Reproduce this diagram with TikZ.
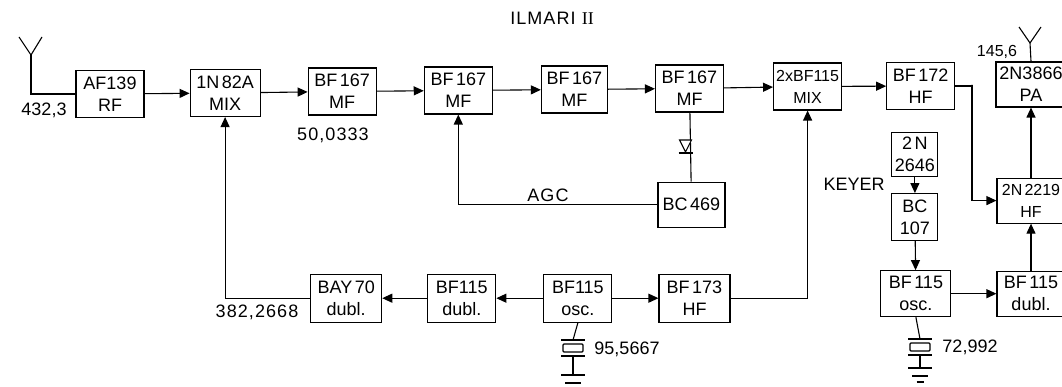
\documentclass[tikz,border=0pt]{standalone}
\usepackage{fontspec}
\setmainfont{Liberation Sans}
\newfontfamily\wideface[LetterSpace=6]{Liberation Sans}
\newfontfamily\blockface[WordSpace=0.5]{Liberation Sans}
\newfontfamily\romanface{Liberation Serif}
\usetikzlibrary{positioning,arrows.meta}
\tikzset{
  block/.style={draw,align=center,inner sep=0pt,minimum width=68pt,minimum height=47pt,font=\fontsize{18}{22}\selectfont\blockface},
  tight/.style={block,font=\fontsize{16}{22}\selectfont\blockface},
  lbl/.style={font=\fontsize{18}{20}\selectfont,inner sep=0pt},
  widelbl/.style={font=\fontsize{18}{20}\selectfont\wideface,inner sep=0pt},
  arr/.style={-{Triangle[length=10pt,width=9pt]}},
  xtal/.pic={
    \coordinate (-top) at (0,0);
    \coordinate (-bot) at (0,16);
    \draw (-12,0) -- (12,0);
    \draw[rounded corners=1pt] (-10,4) rectangle (10,12);
    \draw (-12,16) -- (12,16);
  },
  gnd/.pic={
    \draw (-12,0) -- (12,0);
    \draw (-8,8) -- (8,8);
    \draw (-3.5,14) -- (3.5,14);
  },
  diode/.pic={
    \draw[fill=white] (-6,-6) -- (6,-6) -- (0,6) -- cycle;
    \draw (-7,7) -- (7,7);
  }
}

\begin{document}
\begin{tikzpicture}[x=1pt,y=-1pt,line width=1.1pt]
  \useasboundingbox (0,0) rectangle (1062,387);
  \clip (0,0) rectangle (1062,387);
  % top row
  \node[block,minimum width=68pt] (rf) at (110,94) {AF139\\RF};
  \node[block,minimum width=70pt,right=45pt of rf,yshift=1pt] (mix) {1N 82A\\MIX};
  \node[block,right=47pt of mix,yshift=1.5pt] (mfa) {BF 167\\MF};
  \node[block,right=47pt of mfa,yshift=1pt] (mfb) {BF 167\\MF};
  \node[block,minimum width=66pt,right=48pt of mfb,yshift=1pt] (mfc) {BF 167\\MF};
  \node[block,right=47pt of mfc,yshift=1pt] (mfd) {BF 167\\MF};
  \node[tight,right=49pt of mfd,yshift=2pt] (mixb) {2xBF115\\MIX};
  \node[block,right=44pt of mixb,yshift=.5pt] (hfa) {BF 172\\HF};
  % right column
  \node[block,minimum width=70pt,minimum height=45pt] (pa) at (1031,84.5) {2N3866\\PA};
  \node[tight,minimum height=45pt,below=70pt of pa] (drv) {2N 2219\\HF};
  \node[block,minimum height=45pt,below=47pt of drv] (dblc) {BF 115\\dubl.};
  \node[block,minimum width=70pt,minimum height=46pt,left=45pt of dblc] (oscb) {BF 115\\osc.};
  \node[block,minimum width=46pt,above=29pt of oscb,xshift=-1pt] (bcb) {BC\\107};
  \node[block,minimum width=46pt,minimum height=44pt,above=16pt of bcb] (keyer) {2 N\\2646};
  % lower row
  \node[block,minimum width=67pt,minimum height=45pt,below=69pt of mfd,xshift=2pt] (agc) {BC 469};
  \node[block,minimum width=71pt,minimum height=48pt,below=46pt of agc,xshift=3pt] (hfb) {BF 173\\HF};
  \node[block,minimum height=48pt,left=46pt of hfb] (osca) {BF115\\osc.};
  \node[block,minimum height=48pt,left=47pt of osca] (dbla) {BF115\\dubl.};
  \node[block,minimum width=71pt,minimum height=48pt,left=45pt of dbla] (dblb) {BAY 70\\dubl.};
  % labels
  \node[widelbl] (title) at (552,18) {ILMARI\ {\romanface II}};
  \node[lbl] (frfa) at (44,110) {432,3};
  \node[widelbl] (fmf) at (333,135) {50,0333};
  \node[widelbl] (fagc) at (548,195) {AGC};
  \node[lbl] (fkey) at (854,184) {KEYER};
  \node[lbl,font=\fontsize{16}{20}\selectfont] (fpa) at (997,52) {145,6};
  \node[widelbl] (flo) at (257,312) {382,2668};
  \node[lbl] (fxa) at (627,349) {95,5667};
  \node[lbl] (fxb) at (970,347) {72,992};
  % antennas, crystals
  \coordinate (anta) at (31,55);
  \coordinate (antb) at (1030,43);
  \coordinate (bend) at (972,85);
  \coordinate (gnda) at (573,375);
  \coordinate (gndb) at (920,368);
  \draw (anta) -- +(-12,-18) (anta) -- +(11,-18);
  \draw (antb) -- +(-11,-16) (antb) -- +(11,-16);
  \draw (anta) |- (rf.west);
  \draw (pa.north) -- (antb);
  \pic (xa) at (573,340) {xtal};
  \pic (xb) at (920,339) {xtal};
  \pic at (gnda) {gnd};
  \pic at (gndb) {gnd};
  \draw (osca.south) -- (xa-top);
  \draw (xa-bot) -- (gnda);
  \draw (oscb.south) -- (xb-top);
  \draw (xb-bot) -- (gndb);
  % connectors
  \draw[arr] (rf) -- (mix);
  \draw[arr] (mix) -- (mfa);
  \draw[arr] (mfa) -- (mfb);
  \draw[arr] (mfb) -- (mfc);
  \draw[arr] (mfc) -- (mfd);
  \draw[arr] (mfd) -- (mixb);
  \draw[arr] (mixb) -- (hfa);
  \draw[arr] (hfa.east) -| (bend) |- (drv.west);
  \draw[arr] (drv) -- (pa);
  \draw[arr] (dblc) -- (drv);
  \draw[arr] (oscb) -- (dblc);
  \draw[arr] (keyer) -- (bcb);
  \draw[arr] (bcb) -- (oscb);
  \draw (mfd) -- (agc);
  \pic at (685.5,146) {diode};
  \draw[arr] (agc.west) -| (mfb.south);
  \draw[arr] (osca) -- (hfb);
  \draw[arr] (hfb.east) -| (mixb.south);
  \draw[arr] (osca) -- (dbla);
  \draw[arr] (dbla) -- (dblb);
  \draw[arr] (dblb.west) -| (mix.south);
\end{tikzpicture}
\end{document}
